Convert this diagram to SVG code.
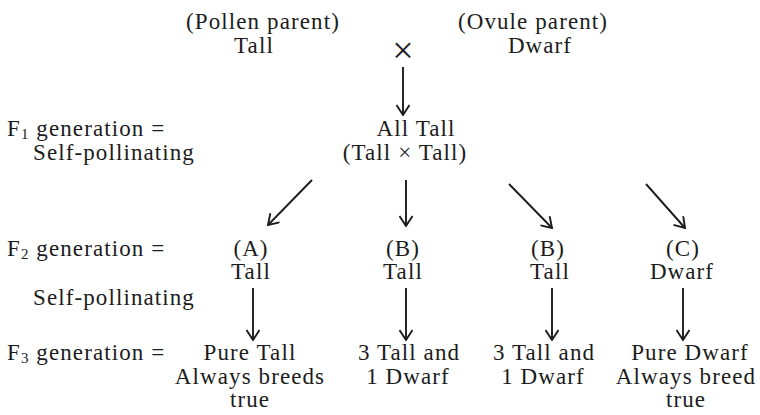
<svg xmlns="http://www.w3.org/2000/svg" width="760" height="415" viewBox="0 0 760 415">
<style>
text{font-family:"Liberation Serif","Times New Roman",serif;font-size:23px;fill:#1c1c1c;letter-spacing:1.1px}
.c{text-anchor:middle}
.sub{font-size:15px}
.bx{font-size:38px;letter-spacing:0}
.arr{stroke:#1c1c1c;stroke-width:1.9;fill:none;marker-end:url(#ah)}
</style>
<defs>
<marker id="ah" viewBox="0 0 12 14" refX="11" refY="7" markerWidth="12" markerHeight="14" markerUnits="userSpaceOnUse" orient="auto">
<path d="M1,0.5 L11,7 L1,13.5" fill="none" stroke="#1c1c1c" stroke-width="1.9"/>
</marker>
</defs>
<rect width="760" height="415" fill="#fff"/>
<g id="pollen"><text class="c" x="263" y="29">(Pollen parent)</text><text class="c" x="254" y="53">Tall</text></g>
<g id="cross"><text class="c bx" x="403" y="63">×</text></g>
<g id="ovule"><text class="c" x="533" y="29">(Ovule parent)</text><text class="c" x="540" y="53">Dwarf</text></g>
<g id="f1label"><text x="7" y="136">F<tspan class="sub" dy="3">1</tspan><tspan dy="-3"> generation =</tspan></text><text x="33" y="160">Self-pollinating</text></g>
<g id="f1"><text class="c" x="416" y="136">All Tall</text><text class="c" x="405" y="160">(Tall  ×  Tall)</text></g>
<g id="f2label"><text x="7" y="256">F<tspan class="sub" dy="3">2</tspan><tspan dy="-3"> generation =</tspan></text><text x="33" y="305">Self-pollinating</text></g>
<g id="f2a"><text class="c" x="251" y="256">(A)</text><text class="c" x="251" y="279">Tall</text></g>
<g id="f2b1"><text class="c" x="403" y="256">(B)</text><text class="c" x="403" y="279">Tall</text></g>
<g id="f2b2"><text class="c" x="548" y="256">(B)</text><text class="c" x="550" y="279">Tall</text></g>
<g id="f2c"><text class="c" x="683" y="256">(C)</text><text class="c" x="682" y="279">Dwarf</text></g>
<g id="f3label"><text x="7" y="360">F<tspan class="sub" dy="3">3</tspan><tspan dy="-3"> generation =</tspan></text></g>
<g id="f3a"><text class="c" x="250" y="360">Pure Tall</text><text class="c" x="250" y="384">Always  breeds</text><text class="c" x="250" y="407">true</text></g>
<g id="f3b1"><text class="c" x="409" y="360">3 Tall and</text><text class="c" x="408" y="384">1 Dwarf</text></g>
<g id="f3b2"><text class="c" x="544" y="360">3 Tall and</text><text class="c" x="543" y="384">1 Dwarf</text></g>
<g id="f3c"><text class="c" x="690" y="360">Pure Dwarf</text><text class="c" x="686" y="384">Always breed</text><text class="c" x="686" y="407">true</text></g>
<g id="connectors">
<line class="arr" x1="403" y1="67" x2="403" y2="115"/>
<line class="arr" x1="312" y1="180" x2="268" y2="225"/>
<line class="arr" x1="406" y1="180" x2="406" y2="226"/>
<line class="arr" x1="509" y1="184" x2="552" y2="228"/>
<line class="arr" x1="646" y1="184" x2="685" y2="228"/>
<line class="arr" x1="253" y1="288" x2="253" y2="340"/>
<line class="arr" x1="406" y1="288" x2="406" y2="340"/>
<line class="arr" x1="552" y1="288" x2="552" y2="340"/>
<line class="arr" x1="683" y1="288" x2="683" y2="340"/>
</g>
</svg>
